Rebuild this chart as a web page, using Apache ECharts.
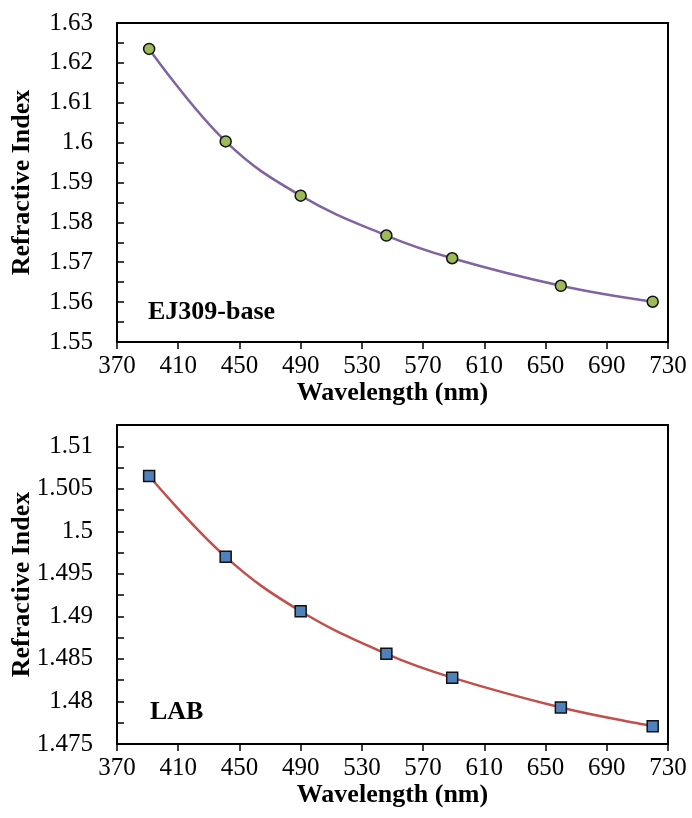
<!DOCTYPE html>
<html>
<head>
<meta charset="utf-8">
<script src="https://cdn.jsdelivr.net/npm/echarts@6/dist/echarts.min.js"></script>
<style>
  html, body { margin: 0; padding: 0; background: #fff; }
  #chart { width: 692px; height: 818px; }
</style>
</head>
<body>
<div id="chart"></div>
<script>
// Wavelengths (nm) shared by both samples
const wavelengths = [391, 441, 490, 546, 589, 660, 720];
// Refractive index of the EJ309-base scintillator
const ej309Index = [1.6235, 1.6003, 1.5867, 1.5767, 1.5710, 1.5641, 1.5601];
// Refractive index of LAB
const labIndex = [1.5065, 1.4970, 1.4906, 1.4856, 1.4828, 1.4793, 1.4771];
// Wavelength tick labels
const xTickLabels = [370, 410, 450, 490, 530, 570, 610, 650, 690, 730];

const X0 = xTickLabels[0];
const XSTEP = xTickLabels[1] - xTickLabels[0];
const XSPAN = xTickLabels[xTickLabels.length - 1] - X0;

const FONT = '"Liberation Serif", "Times New Roman", serif';

function pairs(ys) {
  // x is measured from the first tick so that ticks fall on 370, 410, ...
  return wavelengths.map((w, i) => [w - X0, ys[i]]);
}

function fmtIdx(v) {
  return String(parseFloat(v.toFixed(4)));
}

function xAxis(gridIndex) {
  return {
    type: 'value', gridIndex,
    min: 0, max: XSPAN, interval: XSTEP,
    name: 'Wavelength (nm)', nameLocation: 'middle', nameGap: 38,
    nameMoveOverlap: false,
    nameTextStyle: { fontFamily: FONT, fontWeight: 'bold', fontSize: 26, color: '#000' },
    axisLine: { show: true, lineStyle: { color: '#000', width: 2 } },
    axisTick: { show: true, inside: false, length: 7, lineStyle: { color: '#000', width: 1.5 } },
    axisLabel: {
      margin: 12, fontFamily: FONT, fontSize: 25, color: '#000',
      formatter: v => String(Math.round(v + X0))
    },
    splitLine: { show: false }
  };
}

function yAxis(gridIndex, min, max, step, labelStep) {
  return {
    type: 'value', gridIndex,
    min, max, interval: step,
    name: 'Refractive Index', nameLocation: 'middle', nameRotate: 90, nameGap: 82,
    nameMoveOverlap: false,
    nameTextStyle: { fontFamily: FONT, fontWeight: 'bold', fontSize: 26, color: '#000' },
    axisLine: { show: true, lineStyle: { color: '#000', width: 2 } },
    axisTick: { show: true, inside: true, length: 7, lineStyle: { color: '#000', width: 1.5 } },
    axisLabel: {
      margin: 24, fontFamily: FONT, fontSize: 25, color: '#000',
      formatter: v => {
        const k = Math.round(v / step);
        const k0 = Math.round(min / step);
        return ((k - k0) % labelStep === 0) ? fmtIdx(v) : '';
      }
    },
    splitLine: { show: false }
  };
}

const chart = echarts.init(document.getElementById('chart'), null, { renderer: 'canvas' });

const gridBase = {
  left: 117, right: 24, height: 319,
  show: true, borderColor: '#000', borderWidth: 2, backgroundColor: 'transparent',
  containLabel: false, outerBoundsMode: 'none'
};

chart.setOption({
  backgroundColor: '#fff',
  animation: false,
  grid: [
    Object.assign({}, gridBase, { top: 23 }),
    Object.assign({}, gridBase, { top: 425 })
  ],
  xAxis: [xAxis(0), xAxis(1)],
  yAxis: [
    yAxis(0, 1.55, 1.63, 0.005, 2),
    yAxis(1, 1.475, 1.5125, 0.0025, 2)
  ],
  series: [
    {
      type: 'line', xAxisIndex: 0, yAxisIndex: 0,
      data: pairs(ej309Index),
      smooth: 0.4,
      lineStyle: { color: '#8064A2', width: 2.5 },
      symbol: 'circle', symbolSize: 11,
      itemStyle: { color: '#9BBB59', borderColor: '#111', borderWidth: 1.5 },
      z: 3
    },
    {
      type: 'line', xAxisIndex: 1, yAxisIndex: 1,
      data: pairs(labIndex),
      smooth: 0.4,
      lineStyle: { color: '#C0504D', width: 2.5 },
      symbol: 'rect', symbolSize: 11,
      itemStyle: { color: '#4F81BD', borderColor: '#111', borderWidth: 1.5 },
      z: 3
    }
  ],
  graphic: [
    {
      type: 'text', left: 148, top: 299,
      style: { text: 'EJ309-base', font: 'bold 26px ' + FONT, fill: '#000' }
    },
    {
      type: 'text', left: 150, top: 699,
      style: { text: 'LAB', font: 'bold 26px ' + FONT, fill: '#000' }
    }
  ]
});
</script>
</body>
</html>
